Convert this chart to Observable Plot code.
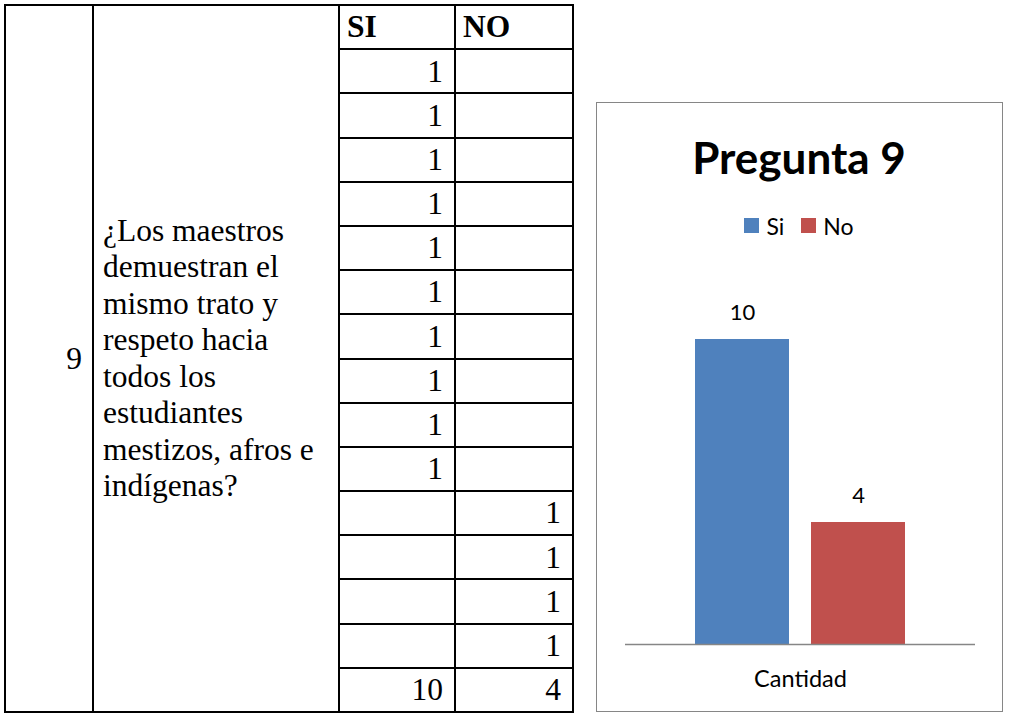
<!DOCTYPE html>
<html><head><meta charset="utf-8">
<script src="https://cdn.jsdelivr.net/npm/d3@7"></script>
<script src="https://cdn.jsdelivr.net/npm/@observablehq/plot@0.6"></script>
<style>
html,body{margin:0;padding:0;background:#fff;}
body{width:1012px;height:715px;position:relative;overflow:hidden;}
#tbl{position:absolute;left:4px;top:4px;border-collapse:collapse;table-layout:fixed;
  font-family:"Liberation Serif","Times New Roman",serif;font-size:31.5px;color:#000;}
#tbl td{border:2px solid #000;padding:0;line-height:1;box-sizing:border-box;}
#tbl td.num{text-align:right;padding-right:11px;vertical-align:middle;}
#tbl td.hd{font-weight:bold;text-align:left;padding-left:7px;}
#tbl td.idx{text-align:right;padding-right:10px;vertical-align:middle;}
#tbl td.q{vertical-align:middle;padding-left:9px;line-height:36.5px;}
#box{position:absolute;left:595.5px;top:101.5px;width:405px;height:608px;border:1.5px solid #868686;
  font-family:Lato,"Open Sans",sans-serif;color:#000;}
#title{position:absolute;left:0;width:100%;top:29px;text-align:center;font-weight:bold;font-size:44px;line-height:50px;}
#legend{position:absolute;left:0;width:100%;top:109px;display:flex;justify-content:center;align-items:center;font-size:23px;line-height:28px;}
#legend .it{display:flex;align-items:center;margin:0 8.5px;}
#legend .sw{width:15px;height:15px;margin-right:7px;}
#chart{position:absolute;left:0;top:148.5px;}
</style>
</head><body>
<table id="tbl"></table>
<div id="box">
  <div id="title"></div>
  <div id="legend"></div>
  <div id="chart"></div>
</div>
<script>
// ---- data ----
const questionNumber = "9";
const questionLines = ["¿Los maestros","demuestran el","mismo trato y","respeto hacia","todos los","estudiantes","mestizos, afros e","indígenas?"];
const columnHeaders = ["SI","NO"];
const siAnswers = [1,1,1,1,1,1,1,1,1,1,null,null,null,null];
const noAnswers = [null,null,null,null,null,null,null,null,null,null,1,1,1,1];
const totals = [10,4];
const chartTitle = "Pregunta 9";
const series = ["Si","No"];
const seriesValues = [10,4];
const category = "Cantidad";
const seriesColors = ["#4F81BD","#C0504D"];

// ---- table ----
const tbl = document.getElementById("tbl");
const colW = [88,246,116,118];
const cg = document.createElement("colgroup");
colW.forEach(w=>{const c=document.createElement("col");c.style.width=w+"px";cg.appendChild(c);});
tbl.appendChild(cg);
const nRows = 2 + siAnswers.length;
const rowH = 707/nRows;
function row(){const tr=document.createElement("tr");tr.style.height=rowH+"px";tbl.appendChild(tr);return tr;}
function cell(tr,cls,txt){const td=document.createElement("td");td.className=cls;if(txt!=null)td.textContent=txt;tr.appendChild(td);return td;}
let tr=row();
const idx=cell(tr,"idx",questionNumber); idx.rowSpan=nRows;
const q=cell(tr,"q",null); q.rowSpan=nRows; q.innerHTML=questionLines.join("<br>");
columnHeaders.forEach(h=>cell(tr,"hd",h));
siAnswers.forEach((v,i)=>{const r=row();cell(r,"num",v==null?"":v);cell(r,"num",noAnswers[i]==null?"":noAnswers[i]);});
tr=row(); totals.forEach(t=>cell(tr,"num",t));

// ---- chart ----
document.getElementById("title").textContent = chartTitle;
const lg=document.getElementById("legend");
series.forEach((s,i)=>{const it=document.createElement("div");it.className="it";
  const sw=document.createElement("div");sw.className="sw";sw.style.background=seriesColors[i];
  const tx=document.createElement("span");tx.textContent=s;it.appendChild(sw);it.appendChild(tx);lg.appendChild(it);});

const data = series.map((s,i)=>({serie:s, valor:seriesValues[i]}));
const chart = Plot.plot({
  width:405, height:450,
  marginTop:27, marginBottom:57, marginLeft:28, marginRight:27,
  style:{fontFamily:"Lato, 'Open Sans', sans-serif", background:"transparent", color:"#000"},
  x:{domain:series, range:[98,308], paddingInner:0.19, paddingOuter:0, axis:null},
  y:{domain:[0,12], axis:null},
  color:{domain:series, range:seriesColors},
  marks:[
    Plot.barY(data,{x:"serie", y:"valor", fill:"serie"}),
    Plot.ruleY([0],{stroke:"#868686", strokeWidth:1.5}),
    Plot.text(data,{x:"serie", y:"valor", text:d=>String(d.valor), dy:-27, fontSize:22, fill:"#000"}),
    Plot.text([category],{frameAnchor:"bottom", dy:42, fontSize:23.5, fill:"#000"})
  ]
});
document.getElementById("chart").appendChild(chart);
</script>
</body></html>
